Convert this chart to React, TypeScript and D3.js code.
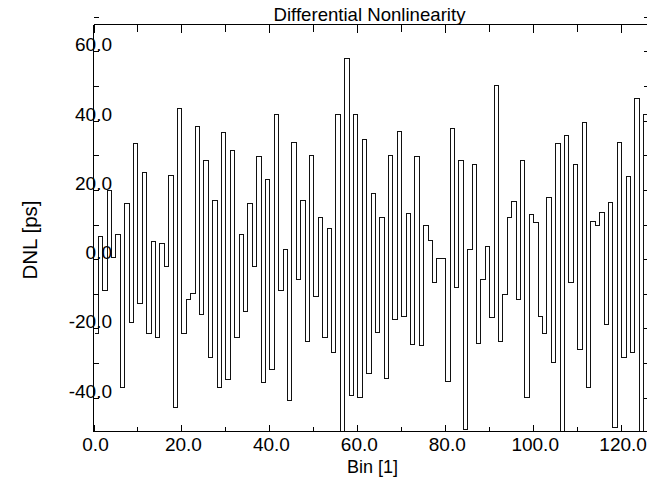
import React from "react";
import * as d3 from "d3";

// DNL per bin (ps), bins 0..125
const dnlValues: number[] = [
  -21.2, 6.6, -8.9, 20.1, 0.5, 7.4, -36.8, 16.1, -18.1, 33.6,
  -12.6, 25.2, -21.2, 5.2, -22.4, 4.7, -2.0, 24.3, -42.6, 43.8,
  -21.2, -11.6, -9.9, 38.6, -15.9, 28.6, -28.2, 17.2, -36.8, 36.8,
  -34.7, 31.5, -22.4, 7.3, -14.9, 16.1, -2.0, 29.8, -35.4, 23.2,
  -31.8, 42.0, -8.8, 3.0, -40.7, 33.9, -5.6, 17.2, -23.6, 30.2,
  -10.7, 12.2, -22.4, 8.9, -26.9, 41.8, -56.0, 58.1, -39.2, 41.8,
  -39.7, 34.6, -32.8, 19.2, -21.0, 12.2, -34.2, 30.2, -17.3, 36.9,
  -16.3, 13.4, -24.5, 29.8, -24.8, 10.0, 5.5, -6.6, 0.3, 0.3,
  -35.2, 37.9, -8.0, 28.6, -49.2, 3.0, 27.6, -24.3, -5.6, 3.9,
  -16.6, 50.2, -23.7, -10.1, 12.2, 16.9, -11.4, 28.6, -39.9, 13.0,
  10.7, -16.3, -21.3, 17.9, -29.6, 33.6, -56.0, 36.0, -6.6, 27.6,
  -26.0, 39.5, -36.8, 11.1, 10.0, 13.6, -18.8, 16.5, -48.4, 33.9,
  -28.2, 24.1, -26.7, 46.6, -56.0, 42.0,
];
// extra level drawn across the first bin
const leadValue = -10.1;

const xMajorTicks = [0, 20, 40, 60, 80, 100, 120];
const xMinorTicks = [10, 30, 50, 70, 90, 110];
const yMajorTicks = [-40, -20, 0, 20, 40, 60];
const yMinorTicks = [-30, -10, 10, 30, 50, 70];

const title = "Differential Nonlinearity";
const xTitle = "Bin [1]";
const yTitle = "DNL [ps]";

const W = 647;
const H = 480;
const left = 93.5;
const right = 647.5;
const top = 24.5;
const bottom = 431.5;

const FONT = "'Liberation Sans', Arial, Helvetica, sans-serif";

export default function App() {
  const x = d3.scaleLinear().domain([0, 126]).range([left, right]);
  const y = d3.scaleLinear().domain([-49.8, 67.8]).range([bottom, top]);
  const fmt = (v: number) => d3.format(".1f")(v).replace("\u2212", "-");

  const pts: [number, number][] = dnlValues.map((v, i) => [i, v]);
  pts.push([dnlValues.length, dnlValues[dnlValues.length - 1]]);
  const line = d3
    .line<[number, number]>()
    .x((d) => Math.round(x(d[0])) + 0.5)
    .y((d) => Math.round(y(d[1])) + 0.5)
    .curve(d3.curveStepAfter);
  const stepPath = line(pts) || "";
  const leadPath = `M${Math.round(x(0)) + 0.5},${Math.round(y(leadValue)) + 0.5}H${Math.round(x(1)) + 0.5}`;

  const rx = (v: number) => Math.round(x(v)) + 0.5;
  const ry = (v: number) => Math.round(y(v)) + 0.5;
  const midX = (left + right) / 2 - 1;

  return (
    <svg
      width={W}
      height={H}
      style={{ position: "absolute", left: 0, top: 0, background: "#fff" }}
    >
      <defs>
        <clipPath id="plotClip">
          <rect x={left} y={top} width={right - left} height={bottom - top} />
        </clipPath>
      </defs>
      <rect x={0} y={0} width={W} height={H} fill="#fff" />

      <g clipPath="url(#plotClip)" fill="none" stroke="#111" strokeWidth={1}>
        <path d={stepPath} shapeRendering="crispEdges" />
        <path d={leadPath} shapeRendering="crispEdges" />
      </g>

      {/* frame */}
      <g stroke="#000" strokeWidth={1} shapeRendering="crispEdges" fill="none">
        <line x1={left} y1={top} x2={right} y2={top} />
        <line x1={left} y1={bottom} x2={right} y2={bottom} />
        <line x1={left} y1={top} x2={left} y2={bottom} />
        <line x1={right} y1={top} x2={right} y2={bottom} />
        {xMajorTicks.map((t) => (
          <g key={"xM" + t}>
            <line x1={rx(t)} x2={rx(t)} y1={bottom} y2={bottom - 7} />
            <line x1={rx(t)} x2={rx(t)} y1={top} y2={top + 8} />
          </g>
        ))}
        {xMinorTicks.map((t) => (
          <g key={"xm" + t}>
            <line x1={rx(t)} x2={rx(t)} y1={bottom} y2={bottom - 5} />
            <line x1={rx(t)} x2={rx(t)} y1={top} y2={top + 7} />
          </g>
        ))}
        {yMajorTicks.concat(yMinorTicks).map((t) => (
          <g key={"y" + t}>
            <line x1={left} x2={left + 5} y1={ry(t)} y2={ry(t)} />
            <line x1={right} x2={right - 4} y1={ry(t)} y2={ry(t)} />
          </g>
        ))}
      </g>

      {/* tick labels */}
      <g fontFamily={FONT} fontSize={19} fill="#000">
        {xMajorTicks.map((t) => (
          <text key={"xl" + t} x={x(t) + 2} y={451} textAnchor="middle">
            {fmt(t)}
          </text>
        ))}
        {yMajorTicks.map((t) => (
          <text key={"yl" + t} x={112} y={y(t)} textAnchor="end">
            {fmt(t)}
          </text>
        ))}
      </g>

      <text
        x={midX}
        y={21}
        textAnchor="middle"
        fontFamily={FONT}
        fontSize={18.6}
        fill="#000"
      >
        {title}
      </text>
      <text
        x={midX + 3}
        y={473}
        textAnchor="middle"
        fontFamily={FONT}
        fontSize={18}
        fill="#000"
      >
        {xTitle}
      </text>
      <text
        transform={`translate(37,240) rotate(-90)`}
        textAnchor="middle"
        fontFamily={FONT}
        fontSize={20.5}
        fill="#000"
      >
        {yTitle}
      </text>
    </svg>
  );
}
